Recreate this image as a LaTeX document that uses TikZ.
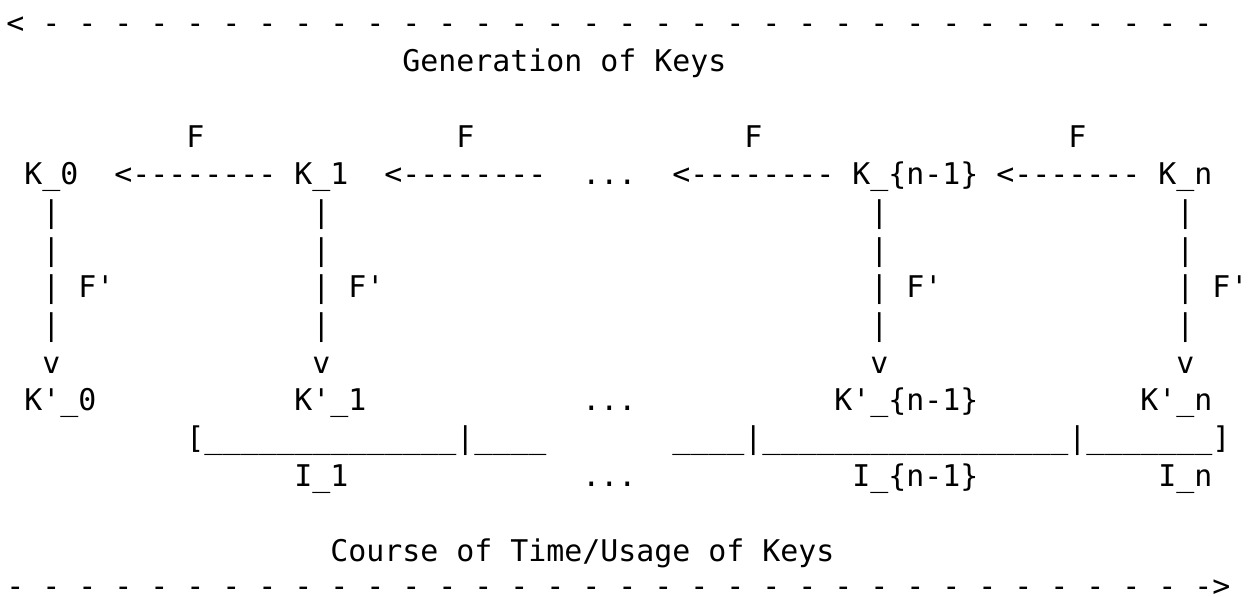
\documentclass[tikz,border=0pt]{standalone}
\usepackage{fontspec}
\setmonofont{DejaVu Sans Mono}
\newcommand{\putascii}[4]{\node[asc] (#1) at ({6.3+18*(#2)},{33.9+37.7*(#3)}) {#4};}
\begin{document}
\begin{tikzpicture}[x=1pt,y=-1pt,
  asc/.style={anchor=base west,inner sep=0pt,outer sep=0pt,text=black,
    font=\ttfamily\fontsize{29.9pt}{37.7pt}\selectfont}]
\fill[white] (0,0) rectangle (1256,597);
\useasboundingbox (0,0) rectangle (1256,597);
% line 0
\putascii{topaxis}{0}{0}{< - - - - - - - - - - - - - - - - - - - - - - - - - - - - - - - - -}
% line 1
\putascii{gen}{22}{1}{Generation of Keys}
% line 3: F labels
\putascii{fa}{10}{3}{F}
\putascii{fb}{25}{3}{F}
\putascii{fc}{41}{3}{F}
\putascii{fd}{59}{3}{F}
% line 4: keys
\putascii{k0}{1}{4}{K\_0}
\putascii{arra}{6}{4}{<--------}
\putascii{k1}{16}{4}{K\_1}
\putascii{arrb}{21}{4}{<--------}
\putascii{kdots}{32}{4}{...}
\putascii{arrc}{37}{4}{<--------}
\putascii{knm}{47}{4}{K\_\{n-1\}}
\putascii{arrd}{55}{4}{<-------}
\putascii{kn}{64}{4}{K\_n}
% lines 5-8: vertical bars
\foreach \r in {5,6,7,8}{
  \putascii{bara\r}{2}{\r}{|}
  \putascii{barb\r}{17}{\r}{|}
  \putascii{barc\r}{48}{\r}{|}
  \putascii{bard\r}{65}{\r}{|}
}
\putascii{fpa}{4}{7}{F'}
\putascii{fpb}{19}{7}{F'}
\putascii{fpc}{50}{7}{F'}
\putascii{fpd}{67}{7}{F'}
% line 9: arrow heads
\putascii{va}{2}{9}{v}
\putascii{vb}{17}{9}{v}
\putascii{vc}{48}{9}{v}
\putascii{vd}{65}{9}{v}
% line 10: derived keys
\putascii{kp0}{1}{10}{K'\_0}
\putascii{kp1}{16}{10}{K'\_1}
\putascii{kpdots}{32}{10}{...}
\putascii{kpnm}{46}{10}{K'\_\{n-1\}}
\putascii{kpn}{63}{10}{K'\_n}
% line 11: intervals
\putascii{ivla}{10}{11}{[\_\_\_\_\_\_\_\_\_\_\_\_\_\_|\_\_\_\_}
\putascii{ivlb}{37}{11}{\_\_\_\_|\_\_\_\_\_\_\_\_\_\_\_\_\_\_\_\_\_|\_\_\_\_\_\_\_]}
% line 12: interval labels
\putascii{ia}{16}{12}{I\_1}
\putascii{idots}{32}{12}{...}
\putascii{inm}{47}{12}{I\_\{n-1\}}
\putascii{in}{64}{12}{I\_n}
% line 14
\putascii{course}{18}{14}{Course of Time/Usage of Keys}
% line 15 (baseline kept just inside the lower edge)
\node[asc,text depth=0pt] (botaxis) at (6.3,596.8)
  {- - - - - - - - - - - - - - - - - - - - - - - - - - - - - - - - - ->};
\end{tikzpicture}
\end{document}
